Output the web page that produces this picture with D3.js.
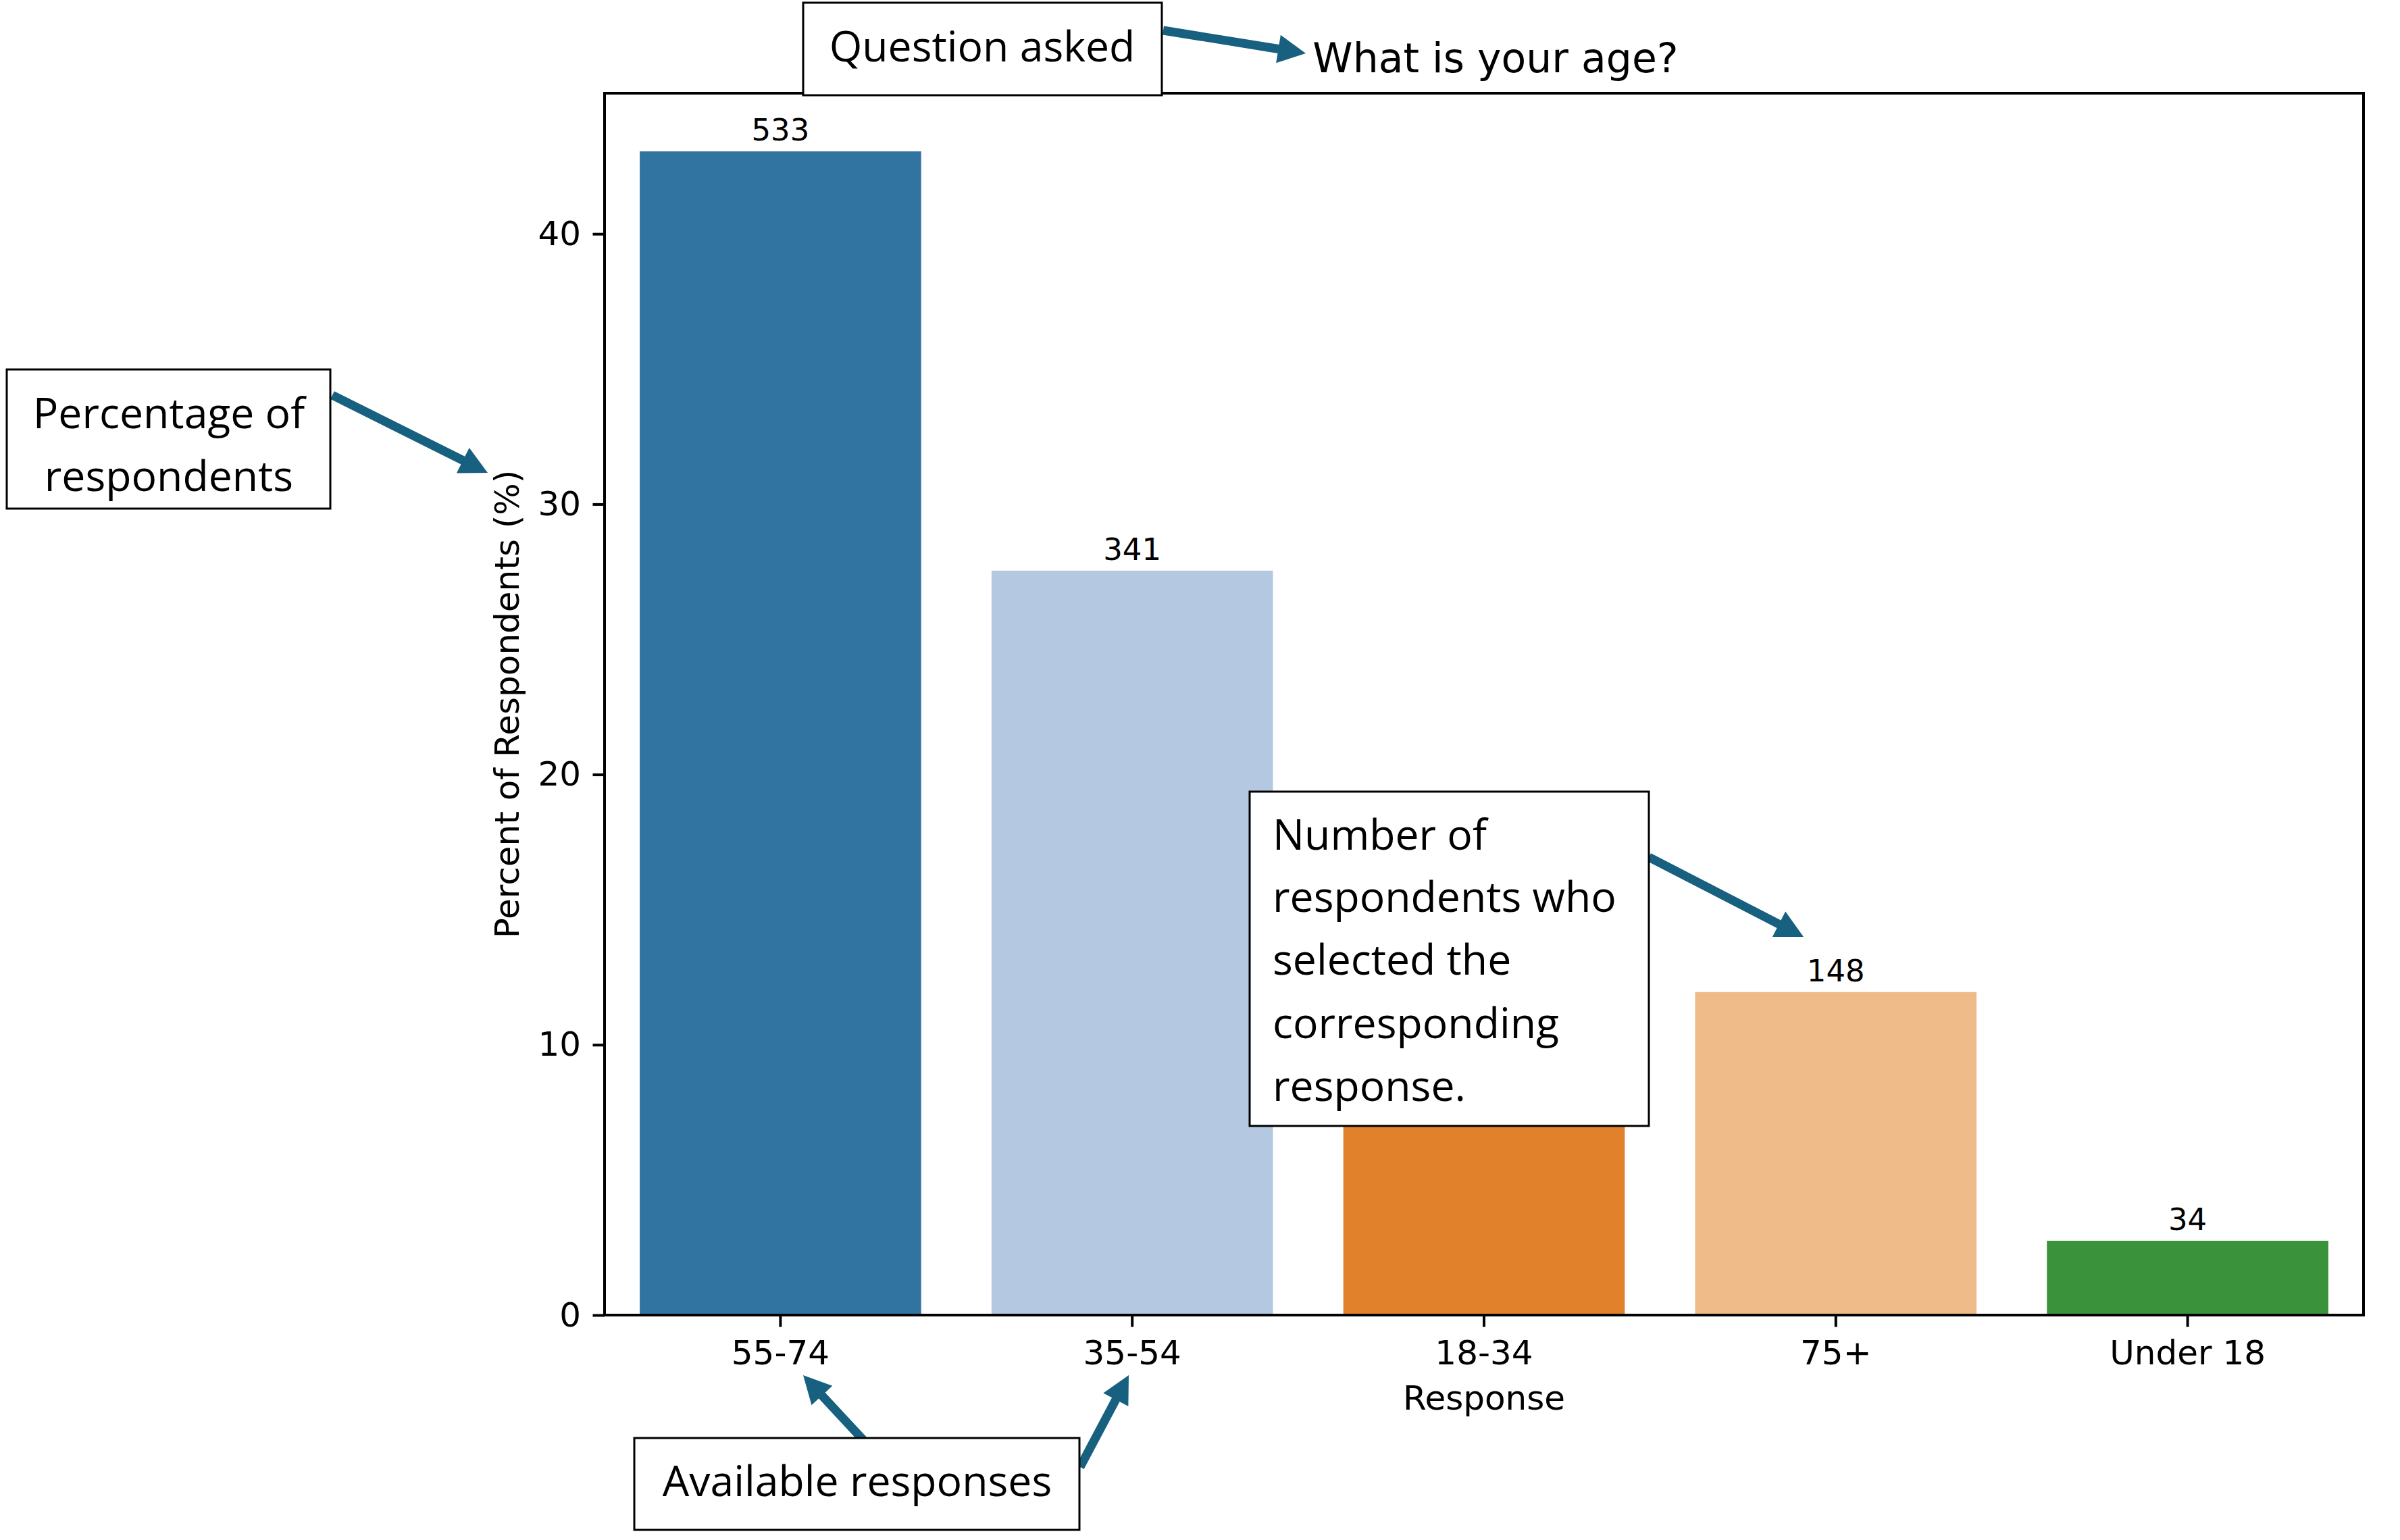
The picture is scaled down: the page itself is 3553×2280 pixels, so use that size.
<!DOCTYPE html>
<html>
<head>
<meta charset="utf-8">
<script src="https://cdn.jsdelivr.net/npm/d3@7"></script>
<style>
  html, body { margin: 0; padding: 0; background: #ffffff; }
  svg { display: block; }
</style>
</head>
<body>
<script>
// ---- data ----
const categories = ["55-74", "35-54", "18-34", "75+", "Under 18"];
const counts = [533, 341, 182, 148, 34];
const percents = [43.05, 27.54, 14.70, 11.95, 2.75];
const barColors = ["#3274a1", "#b5c8e1", "#e1812c", "#eebb89", "#3a923a"];
const yTicks = [0, 10, 20, 30, 40];
const coveredLabels = ["18-34"]; // count label hidden under the annotation box in the reference
const titleText = "What is your age?";
const xLabelText = "Response";
const yLabelText = "Percent of Respondents (%)";

// ---- layout ----
const W = 3553, H = 2280;
const plot = { left: 895, right: 3499, top: 138, bottom: 1947 };
const chartFont = "'DejaVu Sans', sans-serif";
const noteFont = "'Open Sans', sans-serif";
const arrowColor = "#186080";

const svg = d3.select("body").append("svg")
  .attr("width", W).attr("height", H)
  .attr("viewBox", `0 0 ${W} ${H}`);
svg.append("rect").attr("width", W).attr("height", H).attr("fill", "#fff");

const x = d3.scaleBand().domain(categories)
  .range([plot.left, plot.right]).paddingInner(0.2).paddingOuter(0.1);
const y = d3.scaleLinear().domain([0, d3.max(percents) * 1.05])
  .range([plot.bottom, plot.top]);

const rows = categories.map((c, i) => ({ cat: c, pct: percents[i], n: counts[i], color: barColors[i] }));

// bars
svg.append("g").selectAll("rect").data(rows).join("rect")
  .attr("x", d => x(d.cat)).attr("width", x.bandwidth())
  .attr("y", d => y(d.pct)).attr("height", d => y(0) - y(d.pct))
  .attr("fill", d => d.color);

// bar labels
svg.append("g").selectAll("text").data(rows.filter(d => !coveredLabels.includes(d.cat))).join("text")
  .attr("x", d => x(d.cat) + x.bandwidth() / 2)
  .attr("y", d => y(d.pct) - 16)
  .attr("text-anchor", "middle")
  .attr("font-family", chartFont).attr("font-size", 45).attr("fill", "#000")
  .text(d => d.n);

// axes
const yAxis = d3.axisLeft(y).tickValues(yTicks).tickSize(17.5).tickPadding(17.5).tickFormat(d3.format("d"));
const gy = svg.append("g").attr("transform", `translate(${plot.left},0)`).call(yAxis);
gy.select(".domain").remove();
gy.selectAll(".tick line").attr("stroke", "#000").attr("stroke-width", 4);
gy.selectAll(".tick text").attr("font-family", chartFont).attr("font-size", 50).attr("fill", "#000");

const xAxis = d3.axisBottom(x).tickSize(17.5).tickPadding(17.5);
const gx = svg.append("g").attr("transform", `translate(0,${plot.bottom})`).call(xAxis);
gx.select(".domain").remove();
gx.selectAll(".tick line").attr("stroke", "#000").attr("stroke-width", 4);
gx.selectAll(".tick text").attr("font-family", chartFont).attr("font-size", 50).attr("fill", "#000")
  .attr("dy", null).attr("y", 2020 - plot.bottom);

// frame (spines)
svg.append("rect")
  .attr("x", plot.left).attr("y", plot.top)
  .attr("width", plot.right - plot.left).attr("height", plot.bottom - plot.top)
  .attr("fill", "none").attr("stroke", "#000").attr("stroke-width", 4);

// axis labels and title
svg.append("text").attr("x", (plot.left + plot.right) / 2).attr("y", 2087)
  .attr("text-anchor", "middle").attr("font-family", chartFont).attr("font-size", 50)
  .text(xLabelText);
svg.append("text")
  .attr("transform", `translate(768,${(plot.top + plot.bottom) / 2}) rotate(-90)`)
  .attr("text-anchor", "middle").attr("font-family", chartFont).attr("font-size", 50)
  .text(yLabelText);
svg.append("text").attr("x", 2214).attr("y", 107)
  .attr("text-anchor", "middle").attr("font-family", chartFont).attr("font-size", 60)
  .text(titleText);

// ---- annotations ----
function arrow(x1, y1, x2, y2) {
  const sw = 13, hw = 42, hl = 41;
  const dx = x2 - x1, dy = y2 - y1, L = Math.hypot(dx, dy);
  const ux = dx / L, uy = dy / L, nx = -uy, ny = ux;
  const bx = x2 - ux * hl, by = y2 - uy * hl;
  const pts = [
    [x1 + nx * sw / 2, y1 + ny * sw / 2],
    [bx + nx * sw / 2, by + ny * sw / 2],
    [bx + nx * hw / 2, by + ny * hw / 2],
    [x2, y2],
    [bx - nx * hw / 2, by - ny * hw / 2],
    [bx - nx * sw / 2, by - ny * sw / 2],
    [x1 - nx * sw / 2, y1 - ny * sw / 2]
  ];
  svg.append("polygon").attr("points", pts.map(p => p.join(",")).join(" "))
    .attr("fill", arrowColor);
}
function box(x0, y0, x1, y1) {
  svg.append("rect").attr("x", x0).attr("y", y0).attr("width", x1 - x0).attr("height", y1 - y0)
    .attr("fill", "#fff").attr("stroke", "#000").attr("stroke-width", 3);
}
function lines(xp, baselines, texts, anchor) {
  texts.forEach((t, i) => {
    svg.append("text").attr("x", xp).attr("y", baselines[i])
      .attr("text-anchor", anchor).attr("font-family", noteFont).attr("font-size", 62.5)
      .attr("fill", "#000").text(t);
  });
}

// arrows (under boxes)
arrow(1722, 45, 1933, 79);
arrow(492, 585, 722, 700);
arrow(2441, 1269, 2670, 1387);
arrow(1278, 2132, 1189, 2036);
arrow(1599, 2172, 1671, 2036);

// Question asked
box(1189, 4, 1720, 141);
lines(1454, [91], ["Question asked"], "middle");

// Percentage of respondents
box(10, 547, 489, 753);
lines(250, [634, 727], ["Percentage of", "respondents"], "middle");

// Number of respondents...
box(1850, 1172, 2441, 1667);
lines(1884, [1258, 1350, 1443, 1537, 1630],
  ["Number of", "respondents who", "selected the", "corresponding", "response."], "start");

// Available responses
box(939, 2129, 1598, 2265);
lines(1269, [2215], ["Available responses"], "middle");
</script>
</body>
</html>
